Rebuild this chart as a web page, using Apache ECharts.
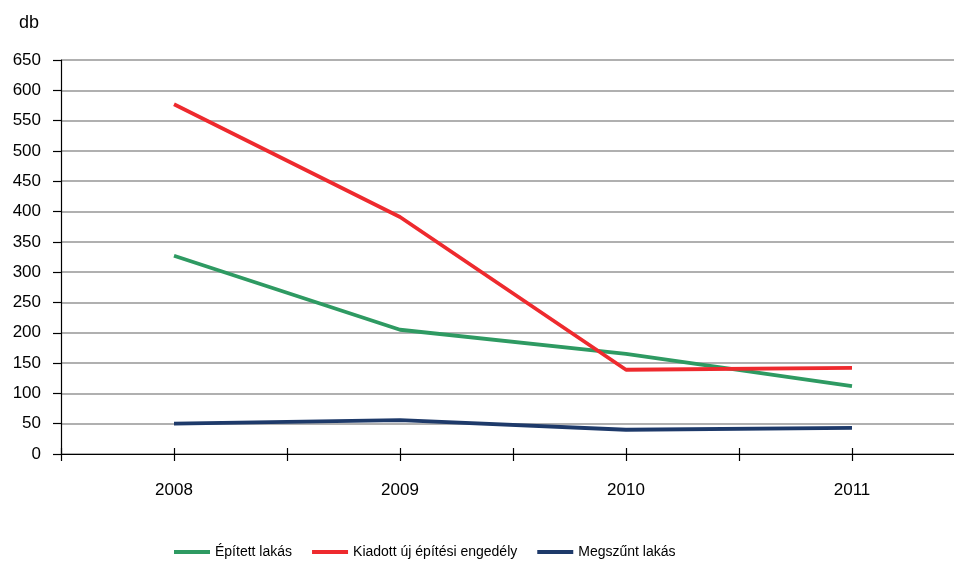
<!DOCTYPE html>
<html>
<head>
<meta charset="utf-8">
<script src="https://cdn.jsdelivr.net/npm/echarts@6/dist/echarts.min.js"></script>
<style>html,body{margin:0;padding:0;background:#fff}#c{width:954px;height:561px}</style>
</head>
<body>
<div id="c"></div>
<script>
const years = [2008, 2009, 2010, 2011];
const seriesNames = ['Épített lakás', 'Kiadott új építési engedély', 'Megszűnt lakás'];
const epitett = [327, 205, 165, 112];
const kiadott = [577, 391, 139, 142];
const megszunt = [50, 56, 40, 43];
const colors = ['#2e9a62', '#ee2a2e', '#1e3a6a'];
const FONT = "'Liberation Sans', Arial, sans-serif";

const chart = echarts.init(document.getElementById('c'), null, {renderer: 'canvas'});
const mk = (name, vals, color) => ({
  name: name, type: 'line', symbol: 'none', smooth: false,
  data: years.map((y, i) => [y, vals[i]]),
  lineStyle: {color: color, width: 3.8}, itemStyle: {color: color},
  z: 3
});
const xBase = {
  type: 'value', min: 2007.5, max: 2011.5, interval: 0.5,
  splitLine: {show: false}
};
chart.setOption({
  animation: false,
  textStyle: {fontFamily: FONT},
  grid: {left: 61, width: 904, top: 60, bottom: 107, containLabel: false, outerBoundsMode: 'none'},
  graphic: [{type: 'text', left: 19, top: 14, style: {text: 'db', font: "18px " + FONT, fill: '#000'}}],
  legend: {
    top: 545, left: 174, itemWidth: 36, itemHeight: 4, itemGap: 20, padding: 0,
    icon: 'rect',
    textStyle: {fontSize: 14, color: '#000', fontFamily: FONT},
    data: seriesNames
  },
  xAxis: [
    Object.assign({}, xBase, {
      axisLine: {show: true, onZero: false, lineStyle: {color: '#000', width: 1.2}},
      axisTick: {show: true, length: 7, lineStyle: {color: '#000', width: 1.2}},
      axisLabel: {
        margin: 28, fontSize: 17, color: '#000', fontFamily: FONT,
        showMinLabel: true, showMaxLabel: true,
        formatter: v => Number.isInteger(v) ? String(v) : ''
      }
    }),
    Object.assign({}, xBase, {
      position: 'bottom',
      axisLine: {show: false},
      axisTick: {show: true, inside: true, length: 6, lineStyle: {color: '#000', width: 1.2}},
      axisLabel: {show: false}
    })
  ],
  yAxis: {
    type: 'value', min: 0, max: 650, interval: 50,
    axisLine: {show: true, lineStyle: {color: '#000', width: 1.2}},
    axisTick: {show: true, length: 8, lineStyle: {color: '#000', width: 1.2}},
    axisLabel: {margin: 20, fontSize: 17, color: '#000', fontFamily: FONT},
    splitLine: {show: true, lineStyle: {color: '#969696', width: 1.5}}
  },
  series: [
    mk(seriesNames[0], epitett, colors[0]),
    mk(seriesNames[1], kiadott, colors[1]),
    mk(seriesNames[2], megszunt, colors[2])
  ]
});
</script>
</body>
</html>
